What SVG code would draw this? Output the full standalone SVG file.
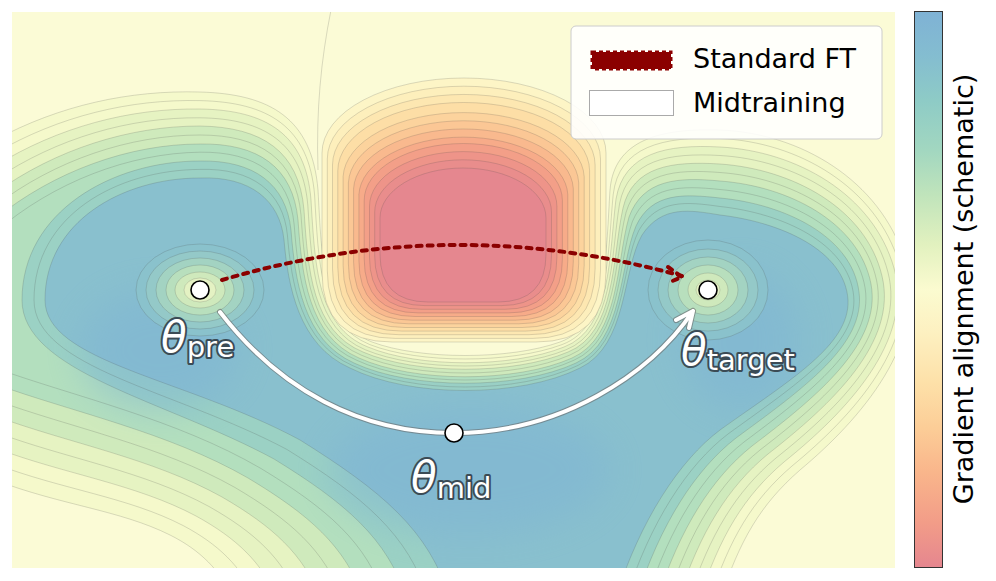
<svg xmlns="http://www.w3.org/2000/svg" xmlns:xlink="http://www.w3.org/1999/xlink" width="996" height="581" viewBox="0 0 996 581">
<style>
.cl{fill:none;stroke:#4a4a4a;stroke-opacity:.32;stroke-width:.6}
.lv{stroke:#4a4a4a;stroke-opacity:.32;stroke-width:.6}
.lab{font-family:"DejaVu Sans",sans-serif;fill:#fff;stroke:#3b4b55;stroke-width:4;paint-order:stroke;stroke-linejoin:round}
.th{font-size:42px;font-style:italic}
.sub{font-size:29px}
.pt{fill:#fff;stroke:#000;stroke-width:1.6}
.leg{font-family:"DejaVu Sans",sans-serif;font-size:27px;fill:#000}
</style>
<defs>
<clipPath id="plot"><rect x="12" y="12" width="883" height="556"/></clipPath>
<filter id="bl" x="-50%" y="-50%" width="200%" height="200%"><feGaussianBlur stdDeviation="18"/></filter>
<linearGradient id="cb" x1="0" y1="0" x2="0" y2="1">
<stop offset="0" stop-color="#7fb2d5"/>
<stop offset="0.08" stop-color="#84bdd0"/>
<stop offset="0.16" stop-color="#8ecbc6"/>
<stop offset="0.25" stop-color="#a2d7c0"/>
<stop offset="0.33" stop-color="#c0e4bb"/>
<stop offset="0.42" stop-color="#e2f1bf"/>
<stop offset="0.5" stop-color="#fbfbd0"/>
<stop offset="0.58" stop-color="#fdf0c0"/>
<stop offset="0.67" stop-color="#fde0a8"/>
<stop offset="0.75" stop-color="#fccd97"/>
<stop offset="0.83" stop-color="#f9b58b"/>
<stop offset="0.92" stop-color="#f29c88"/>
<stop offset="1" stop-color="#e5868f"/>
</linearGradient>
<path id="b0" d="M -5 140 C 60 105 130 90 200 92 C 270 94 312 118 318 190 C 322 260 322 322 372 342 C 420 360 510 360 560 342 C 608 325 606 250 610 190 C 614 140 660 128 720 130 C 800 133 880 180 905 260 C 930 340 860 420 800 470 C 760 505 740 540 720 600 L 235 600 C 220 570 200 550 170 535 C 120 510 60 505 -5 480 Z"/>
<path id="b1" d="M -5 166 C 58 127 130 108 200 109 C 266 110 306 134 311 200 C 315 265 317 327 368 347 C 418 368 512 368 564 347 C 612 329 609 254 616 199 C 624 153 666 144 720 147 C 796 151 873 194 894 268 C 914 341 846 412 784 462 C 744 496 720 536 699 600 L 278 600 C 262 562 236 538 196 516 C 136 484 64 474 -5 448 Z"/>
<path id="b2" d="M -5 193 C 56 149 130 126 200 126 C 262 127 299 151 304 210 C 308 270 312 331 363 352 C 416 375 514 375 568 352 C 616 333 612 258 623 208 C 633 166 672 161 720 164 C 792 169 866 208 882 276 C 898 342 832 404 768 454 C 728 487 700 532 678 600 L 321 600 C 304 554 272 526 222 497 C 152 458 68 443 -5 416 Z"/>
<path id="b3" d="M -5 219 C 54 171 130 144 200 144 C 258 143 293 167 298 220 C 302 275 308 336 359 358 C 414 383 516 383 572 358 C 620 337 616 262 629 217 C 643 179 678 177 720 181 C 788 186 859 222 871 284 C 882 343 818 396 752 446 C 712 478 680 528 657 600 L 364 600 C 346 546 308 514 248 478 C 168 432 72 412 -5 384 Z"/>
<path id="b4" d="M 22 300 C 22 212 112 161 200 161 C 254 160 286 184 291 230 C 295 280 303 340 354 363 C 412 390 518 390 576 363 C 624 341 619 266 636 226 C 652 192 684 194 720 198 C 784 204 852 236 859 292 C 866 344 804 388 736 438 C 696 469 660 524 636 600 L 407 600 C 388 538 344 502 274 459 C 165 400 22 372 22 300 Z"/>
<path id="b5" d="M 45 300 C 45 222 122 178 200 178 C 250 176 280 200 284 240 C 288 285 298 345 350 368 C 410 398 520 398 580 368 C 628 345 622 270 642 235 C 662 205 690 210 720 215 C 780 222 845 250 848 300 C 850 345 790 380 720 430 C 680 460 640 520 615 600 L 450 600 C 430 530 380 490 300 440 C 185 378 45 362 45 300 Z"/>
</defs>

<g id="field" clip-path="url(#plot)">
<rect x="0" y="0" width="996" height="581" fill="#fbfbd6"/>
<use xlink:href="#b0" fill="#f5f9cb"/>
<use xlink:href="#b1" fill="#e6f3c2"/>
<use xlink:href="#b2" fill="#cfeabc"/>
<use xlink:href="#b3" fill="#b3dfbe"/>
<use xlink:href="#b4" fill="#9bd1c4"/>
<use xlink:href="#b5" fill="#89c0ce"/>
<g filter="url(#bl)" fill="#7db2d5" opacity="0.45">
<ellipse cx="160" cy="350" rx="80" ry="60"/>
<ellipse cx="470" cy="470" rx="140" ry="65"/>
<ellipse cx="740" cy="340" rx="60" ry="70"/>
</g>
<g class="cl">
<use xlink:href="#b0"/><use xlink:href="#b1"/><use xlink:href="#b2"/>
<use xlink:href="#b3"/><use xlink:href="#b4"/><use xlink:href="#b5"/>
<path d="M -5 153.2 C 59 116 130 99 200 100.6 C 268 102.2 308.8 126.2 314.6 195 C 318.6 262.5 319.6 324.3 369.8 344.6 C 419 363.8 511 363.8 562 344.6 C 610 327 607.6 252 613.2 194.5 C 618.8 146.5 663 136.2 720 138.5 C 798 141.9 876.5 187 899.3 264 C 922 340.5 853 416 792 466 C 752 500.5 730 538 709.5 600 M 256.5 600 C 241 566 218 544 183 525.5 C 128 497 62 489.5 -5 464"/>
<path d="M -5 179.6 C 57 138 130 117 200 117.8 C 264 118.6 302.4 142.6 307.8 205 C 311.8 267.5 314.8 328.9 365.4 349.8 C 417 371.4 513 371.4 566 349.8 C 614 331 610.8 256 619.6 203.5 C 628.4 159.5 669 152.6 720 155.5 C 794 159.7 869.5 201 887.9 272 C 906 341.5 839 408 776 458 C 736 491.5 710 534 688.5 600 M 299.5 600 C 283 558 254 532 209 506.5 C 144 471 66 458.5 -5 432"/>
<path d="M -5 206 C 55 160 130 135 200 135 C 260 135 296 159 301 215 C 305 272.5 310 333.5 361 355 C 415 379 515 379 570 355 C 618 335 614 260 626 212.5 C 638 172.5 675 169 720 172.5 C 790 177.5 862.5 215 876.5 280 C 890 342.5 825 400 760 450 C 720 482.5 690 530 667.5 600 M 342.5 600 C 325 550 290 520 235 487.5 C 160 445 70 427.5 -5 400"/>
<path d="M -5 232.4 C 53 182 130 153 200 152.2 C 256 151.4 289.6 175.4 294.2 225 C 298.2 277.5 305.2 338.1 356.6 360.2 C 413 386.6 517 386.6 574 360.2 C 622 339 617.2 264 632.4 221.5 C 647.6 185.5 681 185.4 720 189.5 C 786 195.3 855.5 229 865.1 288 C 874 343.5 811 392 744 442 C 704 473.5 670 526 646.5 600 M 385.5 600 C 367 542 326 508 261 468.5 C 176 419 74 396.5 -5 368"/>
<path d="M 34 300 C 34 216 116 170 200 169.4 C 252 167.8 283.2 191.8 287.4 235 C 291.4 282.5 300.4 342.7 352.2 365.4 C 411 394.2 519 394.2 578 365.4 C 626 343 620.4 268 638.8 230.5 C 657.2 198.5 687 201.8 720 206.5 C 782 213.1 848.5 243 853.7 296 C 858 344.5 797 384 728 434 C 688 464.5 650 522 625.5 600 M 428.5 600 C 409 534 362 496 287 449.5 C 175 390 34 368 34 300"/>
<path d="M 331 10 C 321 60 316 110 318 170"/>
</g>
<g id="rings-pre" class="lv">
<ellipse cx="200" cy="290" rx="64" ry="46" fill="#8ac2cc"/>
<ellipse cx="200" cy="290" rx="54" ry="39" fill="#94c9c8"/>
<ellipse cx="200" cy="290" rx="44" ry="32" fill="#a3d3c2"/>
<ellipse cx="200" cy="290" rx="34" ry="25" fill="#b8dfbd"/>
<ellipse cx="200" cy="290" rx="25" ry="18" fill="#cfe9bc"/>
<ellipse cx="200" cy="290" rx="16" ry="12" fill="#e4f2c3"/>
</g>
<g id="rings-target" class="lv">
<ellipse cx="708" cy="290" rx="60" ry="50" fill="#8ac2cc"/>
<ellipse cx="708" cy="290" rx="50" ry="41" fill="#94c9c8"/>
<ellipse cx="708" cy="290" rx="40" ry="33" fill="#a3d3c2"/>
<ellipse cx="708" cy="290" rx="30" ry="25" fill="#b8dfbd"/>
<ellipse cx="708" cy="290" rx="20" ry="17" fill="#cfe9bc"/>
<ellipse cx="708" cy="290" rx="12" ry="10" fill="#e4f2c3"/>
</g>
<g id="peak" class="lv">
<path fill="#fdf5c6" d="M 322 153 A 142 75 0 0 1 606 153 L 606 272 Q 606 342 536 342 L 392 342 Q 322 342 322 272 Z"/>
<path fill="#fdefbc" d="M 327.3 158.9 A 136.6 72.7 0 0 1 600.5 158.9 L 600.5 270.4 Q 600.5 338.4 532.5 338.4 L 395.3 338.4 Q 327.3 338.4 327.3 270.4 Z"/>
<path fill="#fde7b1" d="M 332.5 164.9 A 131.3 70.5 0 0 1 595.1 164.9 L 595.1 268.7 Q 595.1 334.7 529.1 334.7 L 398.5 334.7 Q 332.5 334.7 332.5 268.7 Z"/>
<path fill="#fddea6" d="M 337.8 170.7 A 125.9 68.2 0 0 1 589.6 170.7 L 589.6 267.1 Q 589.6 331.1 525.6 331.1 L 401.8 331.1 Q 337.8 331.1 337.8 267.1 Z"/>
<path fill="#fcd39d" d="M 343.1 176.6 A 120.6 65.9 0 0 1 584.2 176.6 L 584.2 265.5 Q 584.2 327.5 522.2 327.5 L 405.1 327.5 Q 343.1 327.5 343.1 265.5 Z"/>
<path fill="#fbc795" d="M 348.4 182.5 A 115.2 63.6 0 0 1 578.7 182.5 L 578.7 263.8 Q 578.7 323.8 518.7 323.8 L 408.4 323.8 Q 348.4 323.8 348.4 263.8 Z"/>
<path fill="#f9b98e" d="M 353.6 188.5 A 109.9 61.4 0 0 1 573.3 188.5 L 573.3 262.2 Q 573.3 320.2 515.3 320.2 L 411.6 320.2 Q 353.6 320.2 353.6 262.2 Z"/>
<path fill="#f7ab89" d="M 358.9 194.4 A 104.5 59.1 0 0 1 567.8 194.4 L 567.8 260.5 Q 567.8 316.5 511.8 316.5 L 414.9 316.5 Q 358.9 316.5 358.9 260.5 Z"/>
<path fill="#f39f88" d="M 364.2 200.3 A 99.1 56.8 0 0 1 562.4 200.3 L 562.4 258.9 Q 562.4 312.9 508.4 312.9 L 418.2 312.9 Q 364.2 312.9 364.2 258.9 Z"/>
<path fill="#ee9489" d="M 369.5 206.1 A 93.7 54.5 0 0 1 556.9 206.1 L 556.9 257.3 Q 556.9 309.3 504.9 309.3 L 421.5 309.3 Q 369.5 309.3 369.5 257.3 Z"/>
<path fill="#e98d8c" d="M 374.7 212.1 A 88.4 52.3 0 0 1 551.5 212.1 L 551.5 255.6 Q 551.5 305.6 501.5 305.6 L 424.7 305.6 Q 374.7 305.6 374.7 255.6 Z"/>
<path fill="#e5878f" d="M 380 218 A 83 50 0 0 1 546 218 L 546 254 Q 546 302 498 302 L 428 302 Q 380 302 380 254 Z"/>
</g>
</g>

<g id="connectors" fill="none">
<g id="standard-ft" stroke="#8b0000" stroke-width="4" stroke-dasharray="5 6" stroke-linecap="round" stroke-linejoin="round">
<path d="M 222 280 Q 452 212 682 276"/>
<path d="M 668 267 L 682 277 L 670 282"/>
</g>
<g id="midtraining" stroke-linecap="round" stroke-linejoin="round">
<path d="M 220 312 C 280 390 360 433 454 433 C 560 433 650 375 693 311 M 676 320 L 693 311 L 689 328" stroke="#6b6b6b" stroke-opacity="0.6" stroke-width="6"/>
<path d="M 220 312 C 280 390 360 433 454 433 C 560 433 650 375 693 311 M 676 320 L 693 311 L 689 328" stroke="#fff" stroke-width="4"/>
</g>
</g>

<g id="theta-pre">
<circle class="pt" cx="200" cy="290" r="9"/>
<text class="lab" x="161" y="352"><tspan class="th">θ</tspan><tspan class="sub" dy="5">pre</tspan></text>
</g>
<g id="theta-mid">
<circle class="pt" cx="454" cy="433" r="9"/>
<text class="lab" x="411" y="492"><tspan class="th">θ</tspan><tspan class="sub" dy="6">mid</tspan></text>
</g>
<g id="theta-target">
<circle class="pt" cx="708" cy="290" r="9"/>
<text class="lab" x="681" y="365"><tspan class="th">θ</tspan><tspan class="sub" dy="5">target</tspan></text>
</g>

<g id="legend">
<rect x="571" y="26" width="311" height="113" rx="5" fill="#fff" fill-opacity="0.88" stroke="#cccccc" stroke-width="1"/>
<rect x="592" y="52" width="79" height="17" fill="#8b0000" stroke="#8b0000" stroke-width="3" stroke-dasharray="4 3"/>
<rect x="589.5" y="90.5" width="84" height="25" fill="#fff" stroke="#aaaaaa" stroke-width="1"/>
<text class="leg" x="693" y="68">Standard FT</text>
<text class="leg" x="693" y="112">Midtraining</text>
</g>

<g id="colorbar">
<rect x="914.5" y="11.5" width="28" height="556" fill="url(#cb)" stroke="#333" stroke-width="1"/>
<text class="leg" transform="translate(973 289) rotate(-90)" text-anchor="middle">Gradient alignment (schematic)</text>
</g>
</svg>
